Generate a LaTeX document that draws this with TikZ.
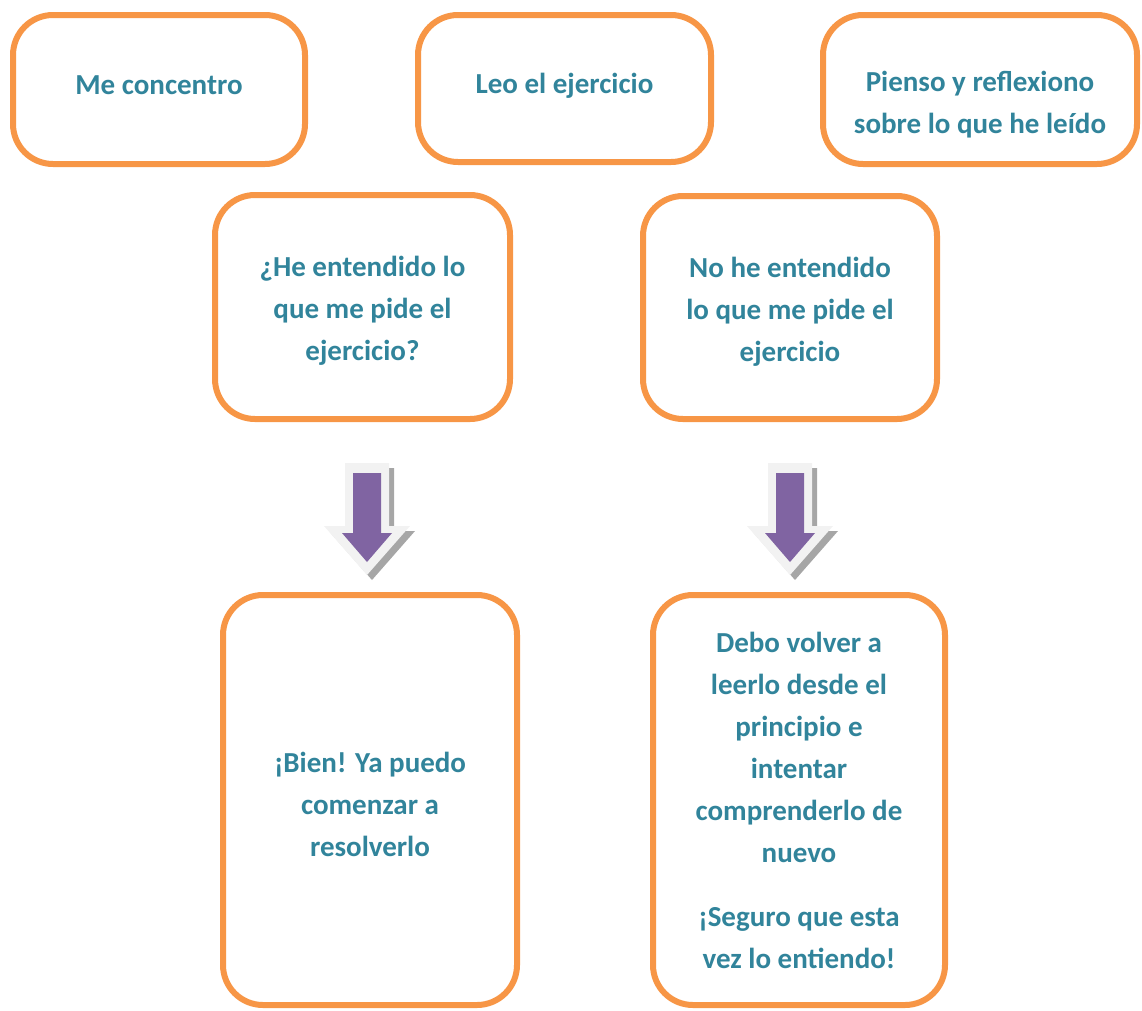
\documentclass[tikz,border=0pt]{standalone}
\usepackage{fontspec}
\setmainfont{Carlito}

\definecolor{boxorange}{HTML}{F79646}
\definecolor{textteal}{HTML}{31849B}
\definecolor{arrowpurple}{HTML}{8064A2}
\definecolor{arrowrim}{HTML}{F2F2F2}
\definecolor{arrowshade}{HTML}{A6A6A6}

\tikzset{
  stepbox/.style={draw=boxorange, line width=6pt, rounded corners=40pt,
    fill=white, inner sep=0pt},
  steptext/.style={align=center, text=textteal, inner sep=0pt,
    font=\fontsize{29}{42}\selectfont\bfseries},
  blockarrow/.pic={
    \fill[arrowshade] (-17,5) -- (27,5) -- (27,68) -- (48,68) -- (5,117)
      -- (-38,68) -- (-17,68) -- cycle;
    \fill[arrowrim] (-22,0) -- (22,0) -- (22,63) -- (43,63) -- (0,112)
      -- (-43,63) -- (-22,63) -- cycle;
    \fill[arrowpurple] (-14,10) -- (14,10) -- (14,70) -- (25,70) -- (0,99)
      -- (-25,70) -- (-14,70) -- cycle;
  },
}

\begin{document}
\begin{tikzpicture}[x=1pt, y=-1pt]
\useasboundingbox (0,0) rectangle (1142,1010);

% First row
\node[stepbox, minimum width=292, minimum height=149] (concentro) at (159,89.5) {};
\node[stepbox, minimum width=293, minimum height=147] (leo) at (564.5,88.5) {};
\node[stepbox, minimum width=314, minimum height=149] (pienso) at (980,89.5) {};
\node[steptext] (concentrotext) at ([yshift=4pt]concentro.center) {Me concentro};
\node[steptext] (leotext) at ([yshift=3pt]leo.center) {Leo el ejercicio};
\node[steptext] (piensotext) at ([yshift=-15pt]pienso.center) {Pienso y reflexiono\\sobre lo que he leído};

% Second row
\node[stepbox, minimum width=295, minimum height=224] (entendido) at (362.5,307) {};
\node[stepbox, minimum width=294, minimum height=223] (noentendido) at (790,307.5) {};
\node[steptext] (entendidotext) at ([yshift=-4pt]entendido.center) {¿He entendido lo\\que me pide el\\ejercicio?};
\node[steptext] (noentendidotext) at ([yshift=-4pt]noentendido.center) {No he entendido\\lo que me pide el\\ejercicio};

% Arrows
\coordinate (arrowL) at (367,463);
\coordinate (arrowR) at (790,463);
\pic at (arrowL) {blockarrow};
\pic at (arrowR) {blockarrow};

% Third row
\node[stepbox, minimum width=294, minimum height=410] (bien) at (370,800) {};
\node[stepbox, minimum width=292, minimum height=410] (volver) at (799,800) {};
\node[steptext] (bientext) at ([yshift=-4pt]bien.center) {¡Bien! Ya puedo\\comenzar a\\resolverlo};
\node[steptext] (volvertext) at (volver.center) {Debo volver a\\leerlo desde el\\principio e\\intentar\\comprenderlo de\\nuevo\\[22pt]¡Seguro que esta\\vez lo entiendo!};

\end{tikzpicture}
\end{document}
